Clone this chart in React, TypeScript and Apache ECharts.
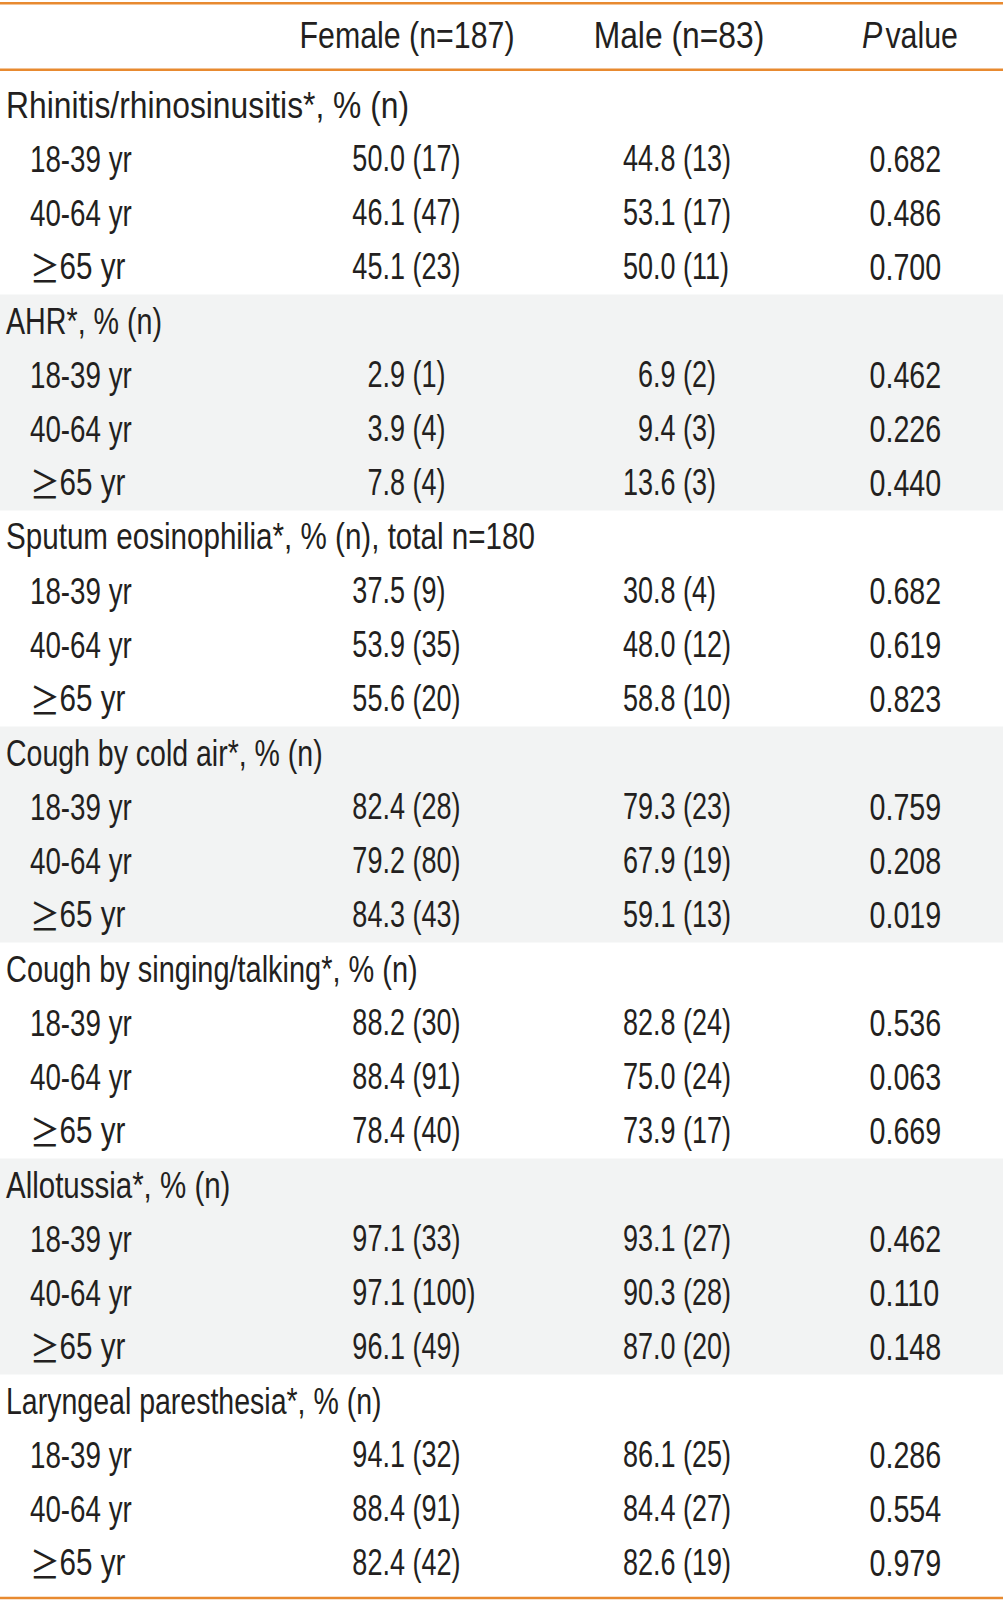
import React, { useEffect, useRef } from "react";
import * as echarts from "echarts";

const headers = ["Female (n=187)", "Male (n=83)", "{i|P}{s| }value"];
const groupLabels = [
  "Rhinitis/rhinosinusitis*, % (n)",
  "AHR*, % (n)",
  "Sputum eosinophilia*, % (n), total n=180",
  "Cough by cold air*, % (n)",
  "Cough by singing/talking*, % (n)",
  "Allotussia*, % (n)",
  "Laryngeal paresthesia*, % (n)",
];
const ageLabels = ["18-39 yr", "40-64 yr", "{g|≥}65 yr"];

const femalePct = [
  [50.0, 46.1, 45.1],
  [2.9, 3.9, 7.8],
  [37.5, 53.9, 55.6],
  [82.4, 79.2, 84.3],
  [88.2, 88.4, 78.4],
  [97.1, 97.1, 96.1],
  [94.1, 88.4, 82.4],
];
const femaleN = [
  [17, 47, 23],
  [1, 4, 4],
  [9, 35, 20],
  [28, 80, 43],
  [30, 91, 40],
  [33, 100, 49],
  [32, 91, 42],
];
const malePct = [
  [44.8, 53.1, 50.0],
  [6.9, 9.4, 13.6],
  [30.8, 48.0, 58.8],
  [79.3, 67.9, 59.1],
  [82.8, 75.0, 73.9],
  [93.1, 90.3, 87.0],
  [86.1, 84.4, 82.6],
];
const maleN = [
  [13, 17, 11],
  [2, 3, 3],
  [4, 12, 10],
  [23, 19, 13],
  [24, 24, 17],
  [27, 28, 20],
  [25, 27, 19],
];
const pValues = [
  ["0.682", "0.486", "0.700"],
  ["0.462", "0.226", "0.440"],
  ["0.682", "0.619", "0.823"],
  ["0.759", "0.208", "0.019"],
  ["0.536", "0.063", "0.669"],
  ["0.462", "0.110", "0.148"],
  ["0.286", "0.554", "0.979"],
];

// ---- styles / layout (not data) ----
const W = 1003;
const H = 1601;
const FONT = "'Liberation Sans', Arial, sans-serif";
const CJK = "'Noto Sans CJK KR', 'Noto Sans CJK SC', sans-serif";
const FS = 37;
const GROUP_SX = [0.86, 0.775, 0.8, 0.77, 0.782, 0.797, 0.771];
const AGE_SX = [0.75, 0.75, 0.8];
const SX_VAL = 0.73;
const SX_P = 0.775;
const HEAD_SX = [0.82, 0.86, 0.82];
const DIGIT_W = 0.556 * FS * SX_VAL;
const TEXT_COLOR = "#231f20";
const ORANGE = "#e88a30";
const SHADE = "#f2f3f3";
const Y0 = 78.4;
const ROW_H = 54.0;
const DECIMAL_X = [382.4, 653];
const P_LEFT_X = 869.5;
const HEADER_X = [407, 679, 910];
const TEXT_DY = -0.6;

function txt(text: string, x: number, y: number, align: string, sx: number, extra: any = {}) {
  return {
    type: "text",
    x,
    y,
    scaleX: sx,
    silent: true,
    z: 10,
    style: {
      text,
      x: 0,
      y: 0,
      align,
      verticalAlign: "middle",
      fill: TEXT_COLOR,
      fontSize: FS,
      fontFamily: FONT,
      ...extra,
    },
  };
}

function fmt(p: number, n: number) {
  return `${p.toFixed(1)} (${n})`;
}

function valueText(p: number, n: number, col: number, y: number) {
  const intDigits = String(Math.floor(p)).length;
  const left = DECIMAL_X[col] - intDigits * DIGIT_W;
  return txt(fmt(p, n), left, y, "left", SX_VAL);
}

export default function App() {
  const ref = useRef<HTMLDivElement>(null);
  useEffect(() => {
    document.body.style.margin = "0";
    if (!ref.current) return;
    const chart = echarts.init(ref.current, undefined, { renderer: "svg" });
    const elements: any[] = [];

    groupLabels.forEach((_, g) => {
      if (g % 2 === 1) {
        elements.push({
          type: "rect",
          silent: true,
          z: 1,
          shape: { x: 0, y: Y0 + g * 4 * ROW_H, width: W, height: 4 * ROW_H },
          style: { fill: SHADE },
        });
      }
    });

    [3.3, 69.8, 1598].forEach((y) => {
      elements.push({
        type: "line",
        silent: true,
        z: 5,
        shape: { x1: 0, y1: y, x2: W, y2: y },
        style: { stroke: ORANGE, lineWidth: 2.5 },
      });
    });

    headers.forEach((h, i) => {
      elements.push(
        txt(h, HEADER_X[i], 35, "center", HEAD_SX[i], {
          rich: {
            i: { fontStyle: "italic", fontSize: FS, fontFamily: FONT, fill: TEXT_COLOR },
            s: { fontSize: 14, fontFamily: FONT, fill: TEXT_COLOR },
          },
        })
      );
    });

    const ageRich = {
      g: { fontFamily: CJK, fontSize: FS, fill: TEXT_COLOR },
    };

    groupLabels.forEach((label, g) => {
      const base = g * 4;
      const cy = (r: number) => Y0 + (r + 0.5) * ROW_H + TEXT_DY;
      elements.push(txt(label, 6, cy(base), "left", GROUP_SX[g]));
      ageLabels.forEach((age, a) => {
        const y = cy(base + 1 + a);
        elements.push(txt(age, 30, y, "left", AGE_SX[a], { rich: ageRich }));
        elements.push(valueText(femalePct[g][a], femaleN[g][a], 0, y));
        elements.push(valueText(malePct[g][a], maleN[g][a], 1, y));
        elements.push(txt(pValues[g][a], P_LEFT_X, y, "left", SX_P));
      });
    });

    chart.setOption({
      animation: false,
      backgroundColor: "#ffffff",
      graphic: { elements },
    });
    return () => chart.dispose();
  }, []);
  return <div ref={ref} style={{ width: W, height: H }} />;
}
